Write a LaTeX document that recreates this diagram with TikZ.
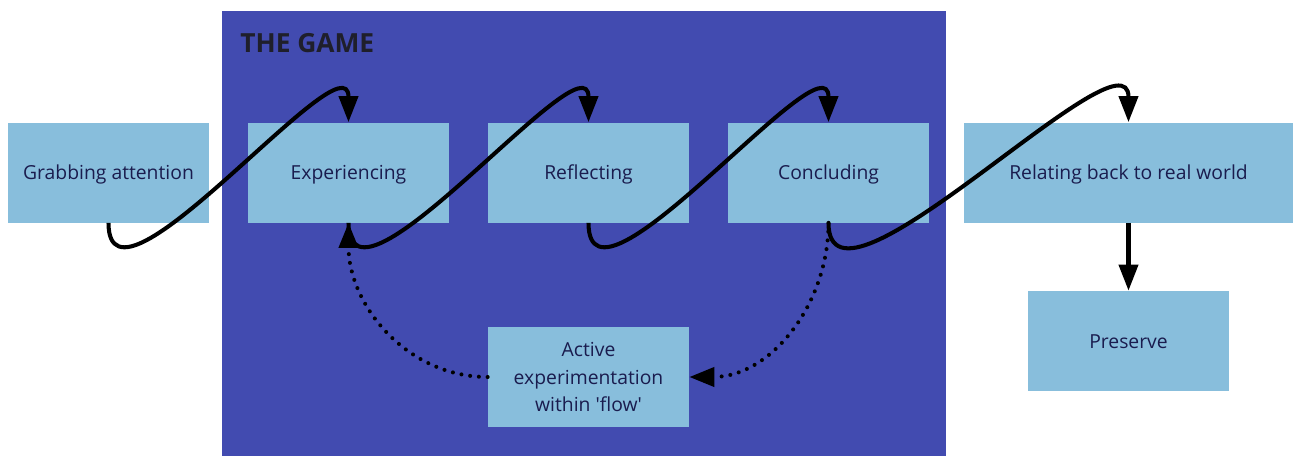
\documentclass[tikz,border=0pt]{standalone}
\usepackage{fontspec}
\setsansfont{Open Sans}
\usepackage{tikz}
\usetikzlibrary{arrows.meta, positioning}
\definecolor{gamebg}{HTML}{424BB0}
\definecolor{stagefill}{HTML}{88BEDC}
\definecolor{stagetext}{HTML}{1A1C4E}
\definecolor{titletext}{HTML}{1F1F2B}
\tikzstyle{stage} = [rectangle, minimum width=4.02cm, minimum height=2cm, text height=1.2em, text depth=0.35em, text centered, fill=stagefill, text=stagetext, font=\sffamily\fontsize{11}{15.5}\selectfont]
\tikzstyle{flow} = [line width=2.3pt, -{Triangle[length=0.52cm, width=0.38cm]}]
\tikzstyle{loopback} = [line width=2.3pt, dash pattern=on 0pt off 5pt, line cap=round, -{Triangle[length=0.5cm, width=0.38cm]}]
\begin{document}
\begin{tikzpicture}[node distance=4.8cm]
\useasboundingbox (0,0) rectangle (25.86,-9.12);

% the game area behind the middle stages
\node (game) [rectangle, fill=gamebg, minimum width=14.48cm, minimum height=8.9cm, inner sep=0] at (11.68,-4.67) {};
\node (title) [anchor=base west, inner sep=0, text=titletext, font=\sffamily\bfseries\fontsize{15}{18}\selectfont] at (4.8,-1.04) {THE GAME};

\node (grab) [stage] at (2.17,-3.45) {Grabbing attention};
\node (exp) [stage, right of=grab] {Experiencing};
\node (refl) [stage, right of=exp] {Reflecting};
\node (conc) [stage, right of=refl] {Concluding};
\node (relate) [stage, minimum width=6.58cm, right of=conc, xshift=1.2cm] {Relating back to real world};
\node (preserve) [stage, node distance=3.37cm, below of=relate] {Preserve};
\node (active) [stage, text height=, text depth=, align=center, node distance=4.09cm, below of=refl] {Active\\experimentation\\within \textquotesingle flow\textquotesingle};

% dotted loop through active experimentation
\draw [loopback] (conc.south) to[out=-90, in=0] (active.east);
\draw [loopback] (active.west) to[out=180, in=-90] (exp.south);

% main sequence
\draw [flow] (grab.south) .. controls +(0,-2.2) and +(0,1.8) .. (exp.north);
\draw [flow] (exp.south) .. controls +(0,-2.2) and +(0,1.8) .. (refl.north);
\draw [flow] (refl.south) .. controls +(0,-2.2) and +(0,1.8) .. (conc.north);
\draw [flow] (conc.south) .. controls +(0,-2.3) and +(0,2.0) .. (relate.north);
\draw [flow] (relate) -- (preserve);

\end{tikzpicture}
\end{document}
